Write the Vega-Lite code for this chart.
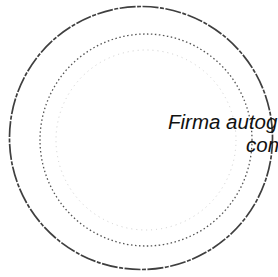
{
  "$schema": "https://vega.github.io/schema/vega-lite/v6.json",
  "autosize": "none",
  "width": 278,
  "height": 277,
  "padding": 0,
  "background": "white",
  "config": {"view": {"stroke": null}},
  "encoding": {
    "x": {"field": "x", "type": "quantitative", "scale": {"domain": [0, 278], "range": [0, 278]}, "axis": null},
    "y": {"field": "y", "type": "quantitative", "scale": {"domain": [0, 277], "range": [0, 277]}, "axis": null}
  },
  "layer": [
    {
      "data": {"values": [{"ring": "outer", "x": 141, "y": 138, "d": 263}]},
      "mark": {"type": "point", "shape": "circle", "filled": false, "stroke": "#1e1e1e", "strokeWidth": 1.7, "strokeDash": [16, 1.5, 4, 1.5], "opacity": 0.85},
      "encoding": {"size": {"field": "d", "type": "quantitative", "scale": {"type": "pow", "exponent": 2, "domain": [0, 263], "range": [0, 69169]}, "legend": null}}
    },
    {
      "data": {"values": [{"ring": "inner", "x": 146, "y": 140, "d": 212}]},
      "mark": {"type": "point", "shape": "circle", "filled": false, "stroke": "#2a2a2a", "strokeWidth": 1.3, "strokeDash": [1.5, 2.5], "opacity": 0.8},
      "encoding": {"size": {"field": "d", "type": "quantitative", "scale": {"type": "pow", "exponent": 2, "domain": [0, 212], "range": [0, 44944]}, "legend": null}}
    },
    {
      "data": {"values": [{"ring": "faint", "x": 146, "y": 140, "d": 180}]},
      "mark": {"type": "point", "shape": "circle", "filled": false, "stroke": "#888888", "strokeWidth": 0.8, "strokeDash": [1, 4], "opacity": 0.5},
      "encoding": {"size": {"field": "d", "type": "quantitative", "scale": {"type": "pow", "exponent": 2, "domain": [0, 180], "range": [0, 32400]}, "legend": null}}
    },
    {
      "data": {"values": [{"label": "Firma autog", "x": 168, "y": 129}, {"label": "con", "x": 246, "y": 152}]},
      "mark": {"type": "text", "font": "Liberation Sans", "fontStyle": "italic", "fontSize": 20.5, "align": "left", "baseline": "alphabetic", "color": "#111111"},
      "encoding": {"text": {"field": "label", "type": "nominal"}}
    }
  ]
}
